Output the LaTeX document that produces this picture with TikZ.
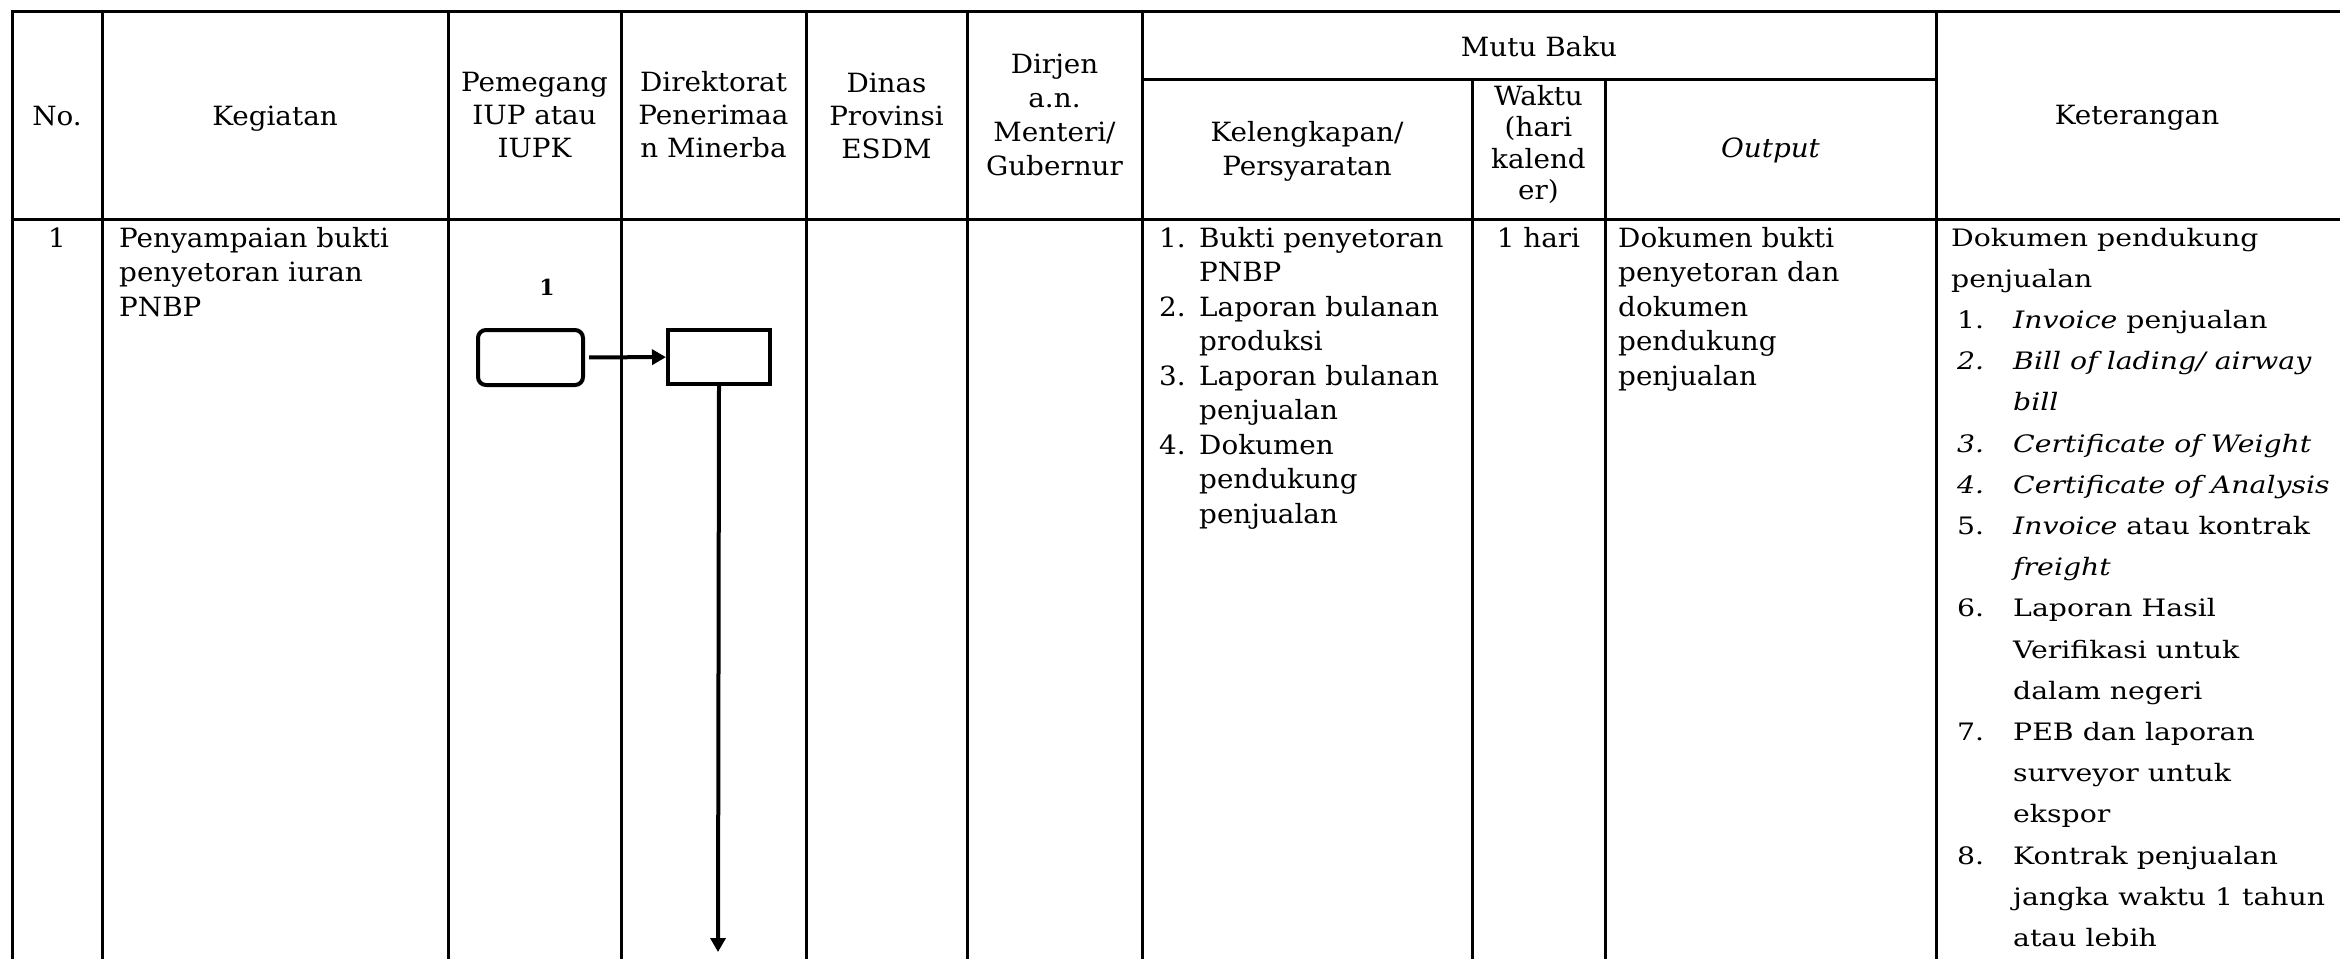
\documentclass[tikz,border=0pt]{standalone}
\usepackage{fontspec}
\setmainfont{DejaVu Serif}
\newfontfamily\cellfont[FakeStretch=1.05]{DejaVu Serif}
\newfontfamily\notefont[FakeStretch=1.18]{DejaVu Serif}
\usetikzlibrary{arrows.meta}
% one line of the Keterangan list: number, then the item text
\newcommand\noteitem[1]{\hspace*{6pt}\makebox[56pt][l]{#1}}
\newcommand\notecont{\hspace*{62pt}}
\newcommand\reqitem[1]{\makebox[40pt][l]{#1}}
\newcommand\reqcont{\hspace*{40pt}}
\begin{document}
\begin{tikzpicture}[x=1pt,y=-1pt,
  rule/.style={line width=3pt, line join=miter},
  head/.style={inner sep=0pt, anchor=base, font=\cellfont\fontsize{26.5}{33}\selectfont},
  body/.style={inner sep=0pt, anchor=base west, font=\cellfont\fontsize{26.5}{34.5}\selectfont},
  note/.style={inner sep=0pt, anchor=base west, font=\notefont\fontsize{24}{41.2}\selectfont},
  startbox/.style={draw, line width=4pt, rounded corners=8pt, minimum width=105pt, minimum height=55pt, inner sep=0pt},
  taskbox/.style={draw, line width=4pt, minimum width=102pt, minimum height=54pt, inner sep=0pt},
  flow/.style={line width=4pt, -{Triangle[width=15pt,length=14pt]}},
  stepno/.style={inner sep=0pt, anchor=base, font=\bfseries\fontsize{22}{22}\selectfont}
]
\useasboundingbox (0,0) rectangle (2340,959);

% table rules
\draw[rule] (2340,11) -- (12,11) -- (12,959);
\draw[rule] (12,219) -- (2340,219);
\draw[rule] (1142,79) -- (1936,79);
\foreach \x in {102,448,621,806,967,1142,1936}
  \draw[rule] (\x,11) -- (\x,959);
\foreach \x in {1472,1605}
  \draw[rule] (\x,79) -- (\x,959);

% header
\node[head] (hno) at (57,125) {No.};
\node[head] (hkeg) at (275,125) {Kegiatan};
\node[head] (hiup) at (534.5,91) {\begin{tabular}[t]{@{}c@{}}Pemegang\\IUP atau\\IUPK\end{tabular}};
\node[head] (hdir) at (713.5,91) {\begin{tabular}[t]{@{}c@{}}Direktorat\\Penerimaa\\n Minerba\end{tabular}};
\node[head] (hdin) at (886.5,92) {\begin{tabular}[t]{@{}c@{}}Dinas\\Provinsi\\ESDM\end{tabular}};
\node[head, font=\cellfont\fontsize{26.5}{34.3}\selectfont] (hdj) at (1054.5,73) {\begin{tabular}[t]{@{}c@{}}Dirjen\\a.n.\\Menteri/\\Gubernur\end{tabular}};
\node[head] (hmutu) at (1539,56) {Mutu Baku};
\node[head, font=\cellfont\fontsize{26.5}{34.5}\selectfont] (hkel) at (1307,141) {\begin{tabular}[t]{@{}c@{}}Kelengkapan/\\Persyaratan\end{tabular}};
\node[head, font=\cellfont\fontsize{26.5}{31.5}\selectfont] (hwkt) at (1538.5,105) {\begin{tabular}[t]{@{}c@{}}Waktu\\(hari\\kalend\\er)\end{tabular}};
\node[head] (hout) at (1770.5,157) {\textit{Output}};
\node[head] (hket) at (2137,124) {Keterangan};

% row 1
\node[body, anchor=base] (no1) at (57,247) {1};
\node[body] (keg1) at (119,247) {\begin{tabular}[t]{@{}l@{}}Penyampaian bukti\\penyetoran iuran\\PNBP\end{tabular}};
\node[body] (kel1) at (1159,247) {\begin{tabular}[t]{@{}l@{}}
  \reqitem{1.}Bukti penyetoran\\
  \reqcont PNBP\\
  \reqitem{2.}Laporan bulanan\\
  \reqcont produksi\\
  \reqitem{3.}Laporan bulanan\\
  \reqcont penjualan\\
  \reqitem{4.}Dokumen\\
  \reqcont pendukung\\
  \reqcont penjualan\end{tabular}};
\node[body, anchor=base] (wkt1) at (1538.5,247) {1 hari};
\node[body] (out1) at (1618,247) {\begin{tabular}[t]{@{}l@{}}Dokumen bukti\\penyetoran dan\\dokumen\\pendukung\\penjualan\end{tabular}};
\node[note] (ket1) at (1951,246) {\begin{tabular}[t]{@{}l@{}}
  Dokumen pendukung\\
  penjualan\\
  \noteitem{1.}\textit{Invoice} penjualan\\
  \noteitem{\textit{2.}}\textit{Bill of lading/ airway}\\
  \notecont\textit{bill}\\
  \noteitem{\textit{3.}}\textit{Certificate of Weight}\\
  \noteitem{\textit{4.}}\textit{Certificate of Analysis}\\
  \noteitem{5.}\textit{Invoice} atau kontrak\\
  \notecont\textit{freight}\\
  \noteitem{6.}Laporan Hasil\\
  \notecont Verifikasi untuk\\
  \notecont dalam negeri\\
  \noteitem{7.}PEB dan laporan\\
  \notecont surveyor untuk\\
  \notecont ekspor\\
  \noteitem{8.}Kontrak penjualan\\
  \notecont jangka waktu 1 tahun\\
  \notecont atau lebih\end{tabular}};

% flow chart
\node[stepno] (s1) at (547,295) {1};
\node[startbox] (start) at (530.5,357.5) {};
\node[taskbox] (task) at (719,357) {};
\coordinate (next) at (718,952);
\draw[flow, shorten <=4pt] (start) -- (task);
\draw[flow] (task.south) -- (next);
\end{tikzpicture}
\end{document}
